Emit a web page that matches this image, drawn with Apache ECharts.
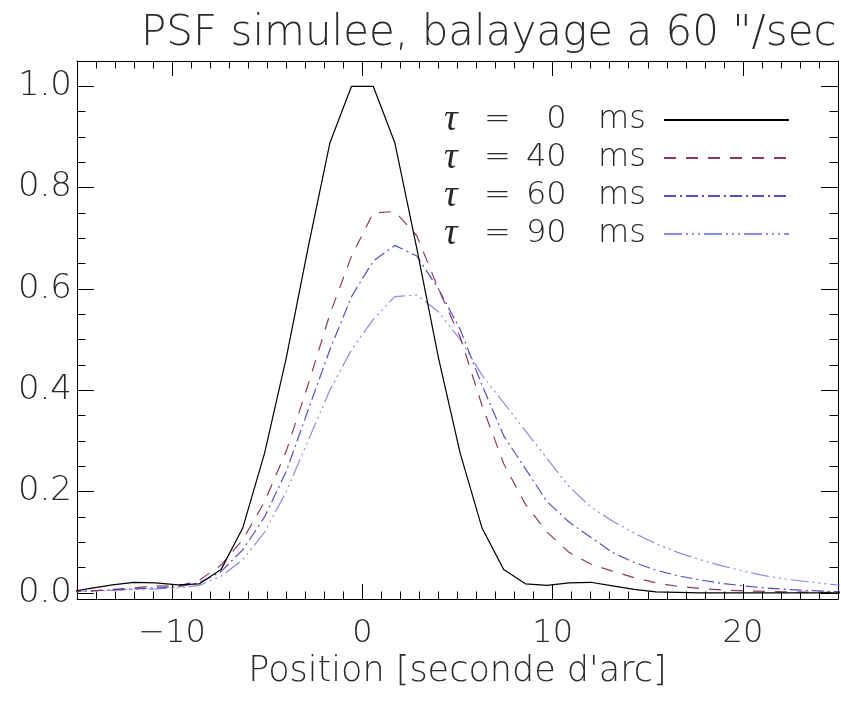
<!DOCTYPE html>
<html>
<head>
<meta charset="utf-8">
<script src="https://cdn.jsdelivr.net/npm/echarts@6/dist/echarts.min.js"></script>
<style>
html,body{margin:0;padding:0;background:#fff;}
#chart{width:841px;height:702px;}
</style>
</head>
<body>
<div id="chart"></div>
<script>
// ---- data ----
var xPos = [-15.43, -14.29, -13.14, -12.00, -10.86, -9.71, -8.57, -7.43, -6.29, -5.14, -4.00, -2.86, -1.71, -0.57, 0.57, 1.71, 2.86, 4.00, 5.14, 6.29, 7.43, 8.57, 9.71, 10.86, 12.00, 13.14, 14.29, 15.43, 16.57, 17.71, 18.86, 20.00, 21.14, 22.29, 23.43, 24.57, 25.71];
var tau0 = [0.002, 0.009, 0.016, 0.021, 0.020, 0.016, 0.018, 0.046, 0.128, 0.276, 0.464, 0.680, 0.888, 1.000, 1.000, 0.888, 0.680, 0.464, 0.276, 0.128, 0.046, 0.018, 0.015, 0.020, 0.021, 0.014, 0.007, 0.002, 0.001, 0.000, 0.000, 0.000, 0.000, 0.000, 0.000, 0.000, 0.000];
var tau40 = [0.002, 0.004, 0.007, 0.010, 0.014, 0.013, 0.025, 0.055, 0.105, 0.180, 0.280, 0.410, 0.550, 0.665, 0.750, 0.753, 0.705, 0.600, 0.505, 0.370, 0.255, 0.175, 0.120, 0.080, 0.057, 0.043, 0.030, 0.020, 0.013, 0.009, 0.006, 0.004, 0.003, 0.002, 0.0015, 0.001, 0.001];
var tau60 = [0.003, 0.004, 0.006, 0.008, 0.010, 0.012, 0.020, 0.042, 0.085, 0.150, 0.240, 0.360, 0.480, 0.585, 0.655, 0.686, 0.665, 0.600, 0.520, 0.410, 0.310, 0.245, 0.180, 0.140, 0.110, 0.080, 0.060, 0.045, 0.034, 0.026, 0.019, 0.014, 0.010, 0.007, 0.005, 0.003, 0.002];
var tau90 = [0.003, 0.004, 0.005, 0.007, 0.008, 0.010, 0.015, 0.033, 0.065, 0.120, 0.200, 0.300, 0.400, 0.480, 0.540, 0.585, 0.588, 0.555, 0.500, 0.430, 0.375, 0.320, 0.265, 0.210, 0.170, 0.142, 0.118, 0.097, 0.080, 0.066, 0.054, 0.043, 0.034, 0.027, 0.022, 0.017, 0.014];
var seriesNames = ['τ = 0 ms', 'τ = 40 ms', 'τ = 60 ms', 'τ = 90 ms'];
var legendNums = ['\u20070', '40', '60', '90'];
var xMajor = [-10, 0, 10, 20];
var xMinor = [-14, -13, -12, -11, -9, -8, -7, -6, -5, -4, -3, -2, -1, 1, 2, 3, 4, 5, 6, 7, 8, 9, 11, 12, 13, 14, 15, 16, 17, 18, 19, 21, 22, 23, 24];
var yMajor = [0.0, 0.2, 0.4, 0.6, 0.8, 1.0];
var yMinor = [0.05, 0.10, 0.15, 0.25, 0.30, 0.35, 0.45, 0.50, 0.55, 0.65, 0.70, 0.75, 0.85, 0.90, 0.95];
var titleText = 'PSF simulee, balayage a 60 "/sec';
var xTitle = "Position [seconde d'arc]";

// ---- chart ----
var FONT = 'DejaVu Sans';
var TXT = '#2a2a2a';
function pairs(ys){ return xPos.map(function(x,i){ return [x, ys[i]]; }); }
var XMIN = -15, XMAX = 25, YMIN = -0.012, YMAX = 1.05;

function xAx(pos, ticks, len, line, labels){
  return {
    type:'value', position:pos, min:XMIN, max:XMAX,
    axisLine:{show:line, onZero:false, lineStyle:{color:'#000', width:1}},
    axisTick:{show:true, inside:true, length:len, customValues:ticks, lineStyle:{color:'#000', width:1}},
    axisLabel:{show:labels, customValues:ticks, fontFamily:FONT, fontSize:32, fontWeight:200, color:TXT, margin:19,
      formatter:function(v){ return String(v).replace('-', '\u2212'); }},
    splitLine:{show:false}
  };
}
function yAx(pos, ticks, len, line, labels){
  return {
    type:'value', position:pos, min:YMIN, max:YMAX,
    axisLine:{show:line, onZero:false, lineStyle:{color:'#000', width:1}},
    axisTick:{show:true, inside:true, length:len, customValues:ticks, lineStyle:{color:'#000', width:1}},
    axisLabel:{show:labels, customValues:ticks, fontFamily:FONT, fontSize:34, fontWeight:200, color:TXT, margin:5,
      formatter:function(v){ return v.toFixed(1); }},
    splitLine:{show:false}
  };
}

var xa0 = xAx('bottom', xMajor, 15, true, true);
xa0.name = xTitle;
xa0.nameLocation = 'middle';
xa0.nameGap = 42;
xa0.nameTextStyle = {fontFamily:FONT, fontSize:35, fontWeight:200, color:TXT};

var styles = [
  {color:'#000000', width:1.2, type:'solid'},
  {color:'#8B3A62', width:1.2, type:[12, 10]},
  {color:'#5050C8', width:1.2, type:[12, 4, 2, 4]},
  {color:'#8C8CE0', width:1.2, type:[18, 4, 2, 4, 2, 4, 2, 4]}
];
var dataSets = [tau0, tau40, tau60, tau90];
var LH = 34;

var option = {
  animation:false,
  backgroundColor:'#fff',
  title:{text:titleText, left:136, top:8,
    textStyle:{fontFamily:FONT, fontSize:42, fontWeight:200, color:TXT}},
  grid:{left:77, right:3, top:61, bottom:103, containLabel:false},
  legend:{
    orient:'vertical', right:51, top:101, padding:0, itemGap:0,
    itemWidth:125, itemHeight:14, align:'right',
    data:seriesNames,
    itemStyle:{opacity:0, borderWidth:0},
    formatter:function(name){
      var i = seriesNames.indexOf(name);
      return '{t|τ}{e|=}{n|' + legendNums[i] + '}{s| }{m|ms}';
    },
    textStyle:{fontFamily:FONT, fontSize:32, fontWeight:200, color:TXT, lineHeight:LH,
      rich:{
        t:{width:40, align:'left', fontStyle:'italic', fontFamily:'Liberation Serif', fontSize:38, color:TXT, lineHeight:LH},
        e:{width:42, align:'left', fontFamily:FONT, fontSize:32, fontWeight:200, color:TXT, lineHeight:LH},
        n:{width:50, align:'left', fontFamily:FONT, fontSize:32, fontWeight:200, color:TXT, lineHeight:LH},
        s:{width:9, fontFamily:FONT, fontSize:32, lineHeight:LH},
        m:{width:74, align:'left', fontFamily:FONT, fontSize:32, fontWeight:200, color:TXT, lineHeight:LH}
      }
    }
  },
  xAxis:[
    xa0,
    xAx('bottom', xMinor, 7.5, false, false),
    xAx('top', xMajor, 15, true, false),
    xAx('top', xMinor, 7.5, false, false)
  ],
  yAxis:[
    yAx('left', yMajor, 17, true, true),
    yAx('left', yMinor, 8.5, false, false),
    yAx('right', yMajor, 17, true, false),
    yAx('right', yMinor, 8.5, false, false)
  ],
  series: dataSets.map(function(d, i){
    return {
      name:seriesNames[i], type:'line', xAxisIndex:0, yAxisIndex:0,
      data:pairs(d), showSymbol:false, symbol:'none', clip:true,
      lineStyle:styles[i], itemStyle:{color:styles[i].color},
      emphasis:{disabled:true}, z: 10 - i
    };
  })
};

var chart = echarts.init(document.getElementById('chart'), null, {renderer:'canvas'});
chart.setOption(option);
</script>
</body>
</html>
